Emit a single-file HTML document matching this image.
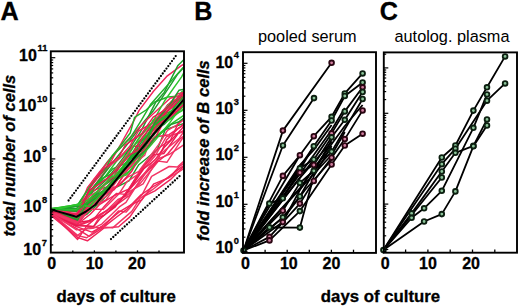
<!DOCTYPE html>
<html><head><meta charset="utf-8"><style>
html,body{margin:0;padding:0;background:#fff;}
svg{display:block;}
text{font-family:"Liberation Sans",sans-serif;}
</style></head><body>
<svg width="520" height="308" viewBox="0 0 520 308">
<rect width="520" height="308" fill="#fff"/>
<clipPath id="ca"><rect x="50.8" y="51.3" width="133.2" height="201.3"/></clipPath>
<g clip-path="url(#ca)" fill="none" stroke-linejoin="round">
<polyline points="51.3,208.7 76.9,204.7 89.5,202.0 100.7,194.4 117.8,178.1 126.6,174.7 140.3,159.4 152.7,139.1 169.7,124.9 184.1,115.2 193.5,107.5" stroke="#2cc42c" stroke-width="1.45"/>
<polyline points="51.3,210.0 77.2,212.0 90.1,192.0 107.3,168.0 120.3,145.0 134.2,120.2 139.1,110.4 153.7,91.0 166.7,76.4 181.3,65.6 186.0,63.0" stroke="#f0245a" stroke-width="1.45"/>
<polyline points="51.3,212.9 77.6,224.8 86.9,221.8 106.2,211.1 117.9,199.5 126.4,196.0 140.5,183.1 158.4,161.1 166.9,162.3 182.3,138.7 193.5,133.3" stroke="#f23666" stroke-width="1.45"/>
<polyline points="51.3,209.7 77.8,217.7 86.9,214.3 102.0,200.6 113.2,188.9 129.0,180.8 138.8,164.7 157.1,150.0 165.3,129.6 184.0,123.4 193.5,110.7" stroke="#1e9e2c" stroke-width="1.45"/>
<polyline points="51.3,209.6 77.9,217.6 91.8,190.0 105.1,176.6 116.3,161.5 131.1,147.7 145.1,135.5 153.2,119.8 165.7,113.4 182.1,91.5 193.5,84.5" stroke="#2cc42c" stroke-width="1.45"/>
<polyline points="51.3,209.0 77.2,206.0 90.1,186.0 107.3,162.0 120.3,146.0 130.2,133.0 134.6,117.3 146.1,110.0 154.7,102.0 167.7,97.0 180.6,96.0 190.0,94.0" stroke="#22b02a" stroke-width="1.45"/>
<polyline points="51.3,209.1 77.8,211.6 92.5,192.2 106.2,180.0 116.3,166.9 125.4,154.9 141.4,130.4 155.9,101.9 164.2,92.4 177.7,65.8 193.5,49.8" stroke="#1e9e2c" stroke-width="1.45"/>
<polyline points="51.3,210.0 76.6,223.0 89.3,191.8 106.7,175.3 112.5,169.0 128.1,162.1 144.8,141.9 158.6,129.9 166.3,113.4 184.0,104.9 193.5,91.6" stroke="#22b02a" stroke-width="1.45"/>
<polyline points="51.3,213.1 77.8,222.5 89.0,220.8 103.7,215.5 115.3,206.9 128.9,189.0 142.0,167.4 154.3,154.8 163.8,153.5 178.1,133.7 193.5,125.1" stroke="#e81a50" stroke-width="1.45"/>
<polyline points="51.3,214.6 77.3,224.8 93.5,226.6 100.2,215.7 115.5,203.8 126.9,192.8 143.1,183.8 157.8,159.0 169.3,154.4 177.8,148.9 193.5,137.8" stroke="#f23666" stroke-width="1.45"/>
<polyline points="51.3,213.3 77.6,235.3 88.3,227.4 102.4,227.8 118.4,210.9 126.2,212.1 142.4,194.2 151.6,176.3 169.1,166.5 177.3,167.0 193.5,152.6" stroke="#f23666" stroke-width="1.45"/>
<polyline points="51.3,211.3 76.5,219.8 89.0,207.3 105.9,200.0 113.2,189.8 127.7,177.1 138.9,171.3 158.6,144.6 167.5,130.3 177.5,124.6 193.5,112.3" stroke="#f23666" stroke-width="1.45"/>
<polyline points="51.3,212.2 77.5,224.0 90.2,208.6 104.4,191.3 119.0,185.4 131.8,171.2 141.0,154.8 151.7,143.7 164.3,121.3 178.3,106.9 193.5,96.7" stroke="#e81a50" stroke-width="1.45"/>
<polyline points="51.3,208.9 77.9,209.9 88.2,193.0 101.5,177.2 115.1,159.5 126.3,145.6 145.0,120.5 152.6,111.8 171.5,83.6 177.8,73.9 193.5,57.0" stroke="#1e9e2c" stroke-width="1.45"/>
<polyline points="51.3,215.7 77.9,237.6 87.4,240.8 104.1,228.0 118.6,226.7 129.9,216.9 144.2,196.1 154.9,190.8 170.3,179.7 183.1,166.9 193.5,162.2" stroke="#f0245a" stroke-width="1.45"/>
<polyline points="51.3,211.7 77.9,222.5 89.9,206.6 99.6,198.7 117.1,185.7 131.4,160.7 140.9,153.4 151.0,136.6 165.1,115.0 177.2,110.7 193.5,86.4" stroke="#f23666" stroke-width="1.45"/>
<polyline points="51.3,210.8 77.8,214.7 91.0,203.9 100.4,196.0 113.8,180.0 131.6,166.2 139.4,149.4 154.0,135.1 166.8,115.8 178.6,112.6 193.5,104.4" stroke="#2cc42c" stroke-width="1.45"/>
<polyline points="51.3,214.4 76.4,228.4 89.2,236.3 103.0,227.6 116.0,217.5 127.1,209.1 141.0,194.8 151.0,188.0 165.6,179.2 180.8,167.7 193.5,158.7" stroke="#f0245a" stroke-width="1.45"/>
<polyline points="51.3,213.4 76.7,224.8 90.2,214.2 99.4,204.7 114.2,195.5 130.4,188.4 141.4,176.4 158.5,158.5 166.6,140.1 178.5,128.3 193.5,117.8" stroke="#f0245a" stroke-width="1.45"/>
<polyline points="51.3,209.4 77.7,220.4 93.3,196.1 101.4,188.9 113.5,184.6 129.5,165.8 140.8,150.5 154.3,124.8 169.8,114.5 177.5,101.3 193.5,87.1" stroke="#22b02a" stroke-width="1.45"/>
<polyline points="51.3,214.4 76.6,235.4 86.8,237.8 101.1,226.6 112.7,227.9 131.8,211.4 140.1,198.4 153.1,189.2 165.0,179.6 178.8,171.8 193.5,162.2" stroke="#f23666" stroke-width="1.45"/>
<polyline points="51.3,208.1 76.5,220.1 90.9,200.2 104.0,185.4 115.3,176.4 128.3,162.0 141.4,142.1 151.0,130.5 167.6,104.9 182.6,95.5 193.5,82.3" stroke="#1e9e2c" stroke-width="1.45"/>
<polyline points="51.3,210.9 77.2,218.6 89.8,192.7 100.1,187.6 113.6,176.6 132.3,146.3 141.5,146.2 158.4,123.1 165.9,112.8 184.1,97.5 193.5,99.7" stroke="#e81a50" stroke-width="1.45"/>
<polyline points="51.3,208.4 76.8,208.1 90.9,192.9 100.7,179.0 114.6,172.5 126.4,157.0 139.5,148.2 155.1,121.8 164.6,116.6 181.0,105.0 193.5,90.9" stroke="#22b02a" stroke-width="1.45"/>
<polyline points="51.3,209.2 77.3,208.5 86.3,201.6 102.7,190.8 117.1,177.9 128.7,159.6 139.8,155.4 156.3,129.4 164.0,124.4 182.0,107.0 193.5,98.5" stroke="#1e9e2c" stroke-width="1.45"/>
<polyline points="51.3,208.6 76.8,219.1 86.7,201.8 103.4,185.8 119.7,174.5 132.7,152.3 138.6,143.0 154.7,128.0 167.3,107.4 180.0,98.1 193.5,87.8" stroke="#22b02a" stroke-width="1.45"/>
<polyline points="51.3,213.4 76.4,226.6 91.9,232.1 100.6,227.3 119.3,211.9 131.4,204.7 141.8,199.9 153.9,183.8 169.1,177.7 179.4,166.5 193.5,156.1" stroke="#f0245a" stroke-width="1.45"/>
<polyline points="51.3,212.1 76.8,220.9 90.7,202.7 105.9,193.4 114.3,189.5 125.9,172.3 143.8,150.1 154.7,137.0 169.0,134.7 181.2,126.3 193.5,111.8" stroke="#f0245a" stroke-width="1.45"/>
<polyline points="51.3,210.5 76.8,221.4 87.3,201.4 101.5,193.2 113.5,179.2 130.0,157.8 142.2,137.8 151.3,126.7 169.1,108.8 179.2,99.9 193.5,85.7" stroke="#e81a50" stroke-width="1.45"/>
<polyline points="51.3,209.2 76.9,209.7 93.6,187.9 103.5,180.4 115.3,175.5 132.7,154.3 139.5,151.6 152.4,129.2 170.8,118.9 183.1,109.0 193.5,111.3" stroke="#2cc42c" stroke-width="1.45"/>
<polyline points="51.3,213.5 76.6,223.0 90.4,209.2 103.2,209.4 118.8,194.1 127.0,181.7 139.2,173.7 155.0,156.0 166.3,136.8 183.0,131.7 193.5,123.7" stroke="#f23666" stroke-width="1.45"/>
<polyline points="51.3,211.7 77.8,222.1 88.5,196.5 102.2,188.8 116.6,167.7 128.3,153.4 138.3,139.3 157.3,117.2 171.0,101.8 178.8,97.7 193.5,81.8" stroke="#f23666" stroke-width="1.45"/>
<polyline points="51.3,209.5 76.9,214.0 87.4,187.8 99.7,171.8 114.9,153.8 128.9,138.7 141.3,125.2 151.6,115.2 170.2,98.2 178.5,96.0 193.5,93.0" stroke="#f0245a" stroke-width="1.45"/>
<polyline points="51.3,213.9 76.6,226.0 92.6,220.6 104.2,206.4 116.3,193.4 125.1,194.4 143.0,167.8 158.1,148.3 170.6,140.0 178.4,122.9 193.5,110.3" stroke="#f0245a" stroke-width="1.45"/>
<polyline points="51.3,211.1 77.5,214.8 93.8,179.5 102.1,171.4 117.4,160.0 129.8,146.2 138.5,131.0 152.8,122.8 166.2,109.4 176.8,94.2 193.5,89.8" stroke="#f0245a" stroke-width="1.45"/>
<polyline points="51.3,213.1 77.6,239.4 87.0,225.6 101.1,213.8 118.1,203.7 129.4,195.5 145.0,174.1 155.6,163.3 167.8,153.8 180.2,138.8 193.5,128.4" stroke="#f0245a" stroke-width="1.45"/>
<polyline points="51.3,211.7 76.5,223.1 89.7,207.1 106.0,196.3 118.8,177.9 128.2,168.1 144.8,155.1 152.0,135.1 165.6,120.3 180.5,109.2 193.5,94.0" stroke="#f23666" stroke-width="1.45"/>
<polyline points="51.3,214.7 77.1,225.8 93.9,226.4 100.4,218.4 116.1,205.1 126.5,193.9 143.5,169.0 155.2,159.8 163.9,147.8 181.6,129.1 193.5,111.7" stroke="#e81a50" stroke-width="1.45"/>
<polyline points="51.3,208.8 77.0,206.0 89.7,186.9 105.7,168.6 112.2,156.1 130.5,137.7 141.6,119.9 150.9,103.9 171.0,81.2 183.4,67.3 193.5,53.9" stroke="#22b02a" stroke-width="1.45"/>
<polyline points="51.3,209.0 76.7,204.7 88.2,200.0 106.0,183.1 115.3,171.2 129.1,153.9 140.6,135.5 153.0,121.4 164.8,100.5 181.6,76.8 193.5,55.8" stroke="#2cc42c" stroke-width="1.45"/>
<polyline points="51.3,209.2 77.6,220.2 86.5,203.5 99.6,195.9 114.1,180.1 132.0,154.6 140.0,150.8 155.6,121.3 169.4,105.3 178.9,90.3 193.5,87.0" stroke="#1e9e2c" stroke-width="1.45"/>
<polyline points="51.3,211.8 77.7,214.8 90.2,187.8 104.6,168.0 119.0,157.0 125.2,145.1 141.7,133.6 153.2,117.2 166.5,109.0 183.2,92.9 193.5,101.8" stroke="#e81a50" stroke-width="1.45"/>
<polyline points="51.3,210.0 77.7,206.4 88.5,203.5 102.0,193.7 113.6,179.6 126.9,165.9 144.8,151.1 153.4,139.6 171.5,124.3 178.5,122.0 193.5,110.9" stroke="#1e9e2c" stroke-width="1.45"/>
<polyline points="51.3,210.8 76.7,204.5 89.9,206.5 106.5,188.3 114.0,181.7 128.8,171.6 139.4,158.6 156.6,138.6 169.8,122.6 179.3,109.6 193.5,100.1" stroke="#2cc42c" stroke-width="1.45"/>
<polyline points="51.3,209.3 76.6,217.1 89.0,191.1 105.6,179.6 116.9,169.7 130.3,154.4 138.0,150.3 156.7,125.6 167.9,117.6 177.2,111.1 193.5,94.7" stroke="#e81a50" stroke-width="1.45"/>
<polyline points="51.3,213.4 76.5,229.9 92.9,228.4 101.8,224.1 119.3,206.9 126.0,202.4 139.8,180.3 152.1,162.6 165.4,149.7 179.1,138.6 193.5,116.6" stroke="#f23666" stroke-width="1.45"/>
<polyline points="51.3,209.1 76.6,210.6 86.2,203.1 101.9,192.5 113.0,182.7 126.6,162.5 144.3,146.6 154.2,125.5 167.5,115.3 183.9,96.5 193.5,93.2" stroke="#22b02a" stroke-width="1.45"/>
<polyline points="51.5,209.6 76.4,216.8 86,211.5 95,205 110,187.3 128.4,164.9 155,132.5 185,98" stroke="#000" stroke-width="2"/>
</g>
<line x1="68.6" y1="200.5" x2="175.9" y2="55.8" stroke="#000" stroke-width="2.3" stroke-linecap="round" stroke-dasharray="0 3.1"/>
<line x1="111" y1="239.1" x2="181.6" y2="174.3" stroke="#000" stroke-width="2.3" stroke-linecap="round" stroke-dasharray="0 3.1"/>
<rect x="50.8" y="51.3" width="133.2" height="201.3" fill="none" stroke="#000" stroke-width="1.9"/>
<line x1="50.8" y1="244.9" x2="53.2" y2="244.9" stroke="#000" stroke-width="1.2"/>
<line x1="50.8" y1="236.0" x2="53.2" y2="236.0" stroke="#000" stroke-width="1.2"/>
<line x1="50.8" y1="229.6" x2="53.2" y2="229.6" stroke="#000" stroke-width="1.2"/>
<line x1="50.8" y1="224.7" x2="53.2" y2="224.7" stroke="#000" stroke-width="1.2"/>
<line x1="50.8" y1="220.7" x2="53.2" y2="220.7" stroke="#000" stroke-width="1.2"/>
<line x1="50.8" y1="217.3" x2="53.2" y2="217.3" stroke="#000" stroke-width="1.2"/>
<line x1="50.8" y1="214.4" x2="53.2" y2="214.4" stroke="#000" stroke-width="1.2"/>
<line x1="50.8" y1="211.8" x2="53.2" y2="211.8" stroke="#000" stroke-width="1.2"/>
<line x1="50.8" y1="209.5" x2="55.3" y2="209.5" stroke="#000" stroke-width="1.2"/>
<line x1="50.8" y1="194.3" x2="53.2" y2="194.3" stroke="#000" stroke-width="1.2"/>
<line x1="50.8" y1="185.4" x2="53.2" y2="185.4" stroke="#000" stroke-width="1.2"/>
<line x1="50.8" y1="179.0" x2="53.2" y2="179.0" stroke="#000" stroke-width="1.2"/>
<line x1="50.8" y1="174.1" x2="53.2" y2="174.1" stroke="#000" stroke-width="1.2"/>
<line x1="50.8" y1="170.1" x2="53.2" y2="170.1" stroke="#000" stroke-width="1.2"/>
<line x1="50.8" y1="166.7" x2="53.2" y2="166.7" stroke="#000" stroke-width="1.2"/>
<line x1="50.8" y1="163.8" x2="53.2" y2="163.8" stroke="#000" stroke-width="1.2"/>
<line x1="50.8" y1="161.2" x2="53.2" y2="161.2" stroke="#000" stroke-width="1.2"/>
<line x1="50.8" y1="158.9" x2="55.3" y2="158.9" stroke="#000" stroke-width="1.2"/>
<line x1="50.8" y1="143.7" x2="53.2" y2="143.7" stroke="#000" stroke-width="1.2"/>
<line x1="50.8" y1="134.8" x2="53.2" y2="134.8" stroke="#000" stroke-width="1.2"/>
<line x1="50.8" y1="128.4" x2="53.2" y2="128.4" stroke="#000" stroke-width="1.2"/>
<line x1="50.8" y1="123.5" x2="53.2" y2="123.5" stroke="#000" stroke-width="1.2"/>
<line x1="50.8" y1="119.5" x2="53.2" y2="119.5" stroke="#000" stroke-width="1.2"/>
<line x1="50.8" y1="116.1" x2="53.2" y2="116.1" stroke="#000" stroke-width="1.2"/>
<line x1="50.8" y1="113.2" x2="53.2" y2="113.2" stroke="#000" stroke-width="1.2"/>
<line x1="50.8" y1="110.6" x2="53.2" y2="110.6" stroke="#000" stroke-width="1.2"/>
<line x1="50.8" y1="108.3" x2="55.3" y2="108.3" stroke="#000" stroke-width="1.2"/>
<line x1="50.8" y1="93.1" x2="53.2" y2="93.1" stroke="#000" stroke-width="1.2"/>
<line x1="50.8" y1="84.2" x2="53.2" y2="84.2" stroke="#000" stroke-width="1.2"/>
<line x1="50.8" y1="77.8" x2="53.2" y2="77.8" stroke="#000" stroke-width="1.2"/>
<line x1="50.8" y1="72.9" x2="53.2" y2="72.9" stroke="#000" stroke-width="1.2"/>
<line x1="50.8" y1="68.9" x2="53.2" y2="68.9" stroke="#000" stroke-width="1.2"/>
<line x1="50.8" y1="65.5" x2="53.2" y2="65.5" stroke="#000" stroke-width="1.2"/>
<line x1="50.8" y1="62.6" x2="53.2" y2="62.6" stroke="#000" stroke-width="1.2"/>
<line x1="50.8" y1="60.0" x2="53.2" y2="60.0" stroke="#000" stroke-width="1.2"/>
<line x1="50.8" y1="57.7" x2="55.3" y2="57.7" stroke="#000" stroke-width="1.2"/>
<line x1="72.8" y1="252.6" x2="72.8" y2="250.4" stroke="#000" stroke-width="1.3"/>
<line x1="94.4" y1="252.6" x2="94.4" y2="250.4" stroke="#000" stroke-width="1.3"/>
<line x1="115.9" y1="252.6" x2="115.9" y2="250.4" stroke="#000" stroke-width="1.3"/>
<line x1="137.5" y1="252.6" x2="137.5" y2="250.4" stroke="#000" stroke-width="1.3"/>
<line x1="159.0" y1="252.6" x2="159.0" y2="250.4" stroke="#000" stroke-width="1.3"/>
<g fill="none" stroke="#000" stroke-width="1.8" stroke-linejoin="round">
<polyline points="243.5,250.5 282.9,130.6 331.6,62.8"/>
<polyline points="243.5,250.5 282.9,145.5 314.0,98.1"/>
<polyline points="243.5,250.5 282.9,175.9 299.9,155.2 313.8,136.2 331.6,116.8 344.8,93.4 362.6,73.4"/>
<polyline points="243.5,250.5 269.3,203.6 282.8,198.3 313.8,146.2 331.6,120.5 344.8,96.0 362.6,82.5"/>
<polyline points="243.5,250.5 299.9,168.3 313.8,159.5 331.6,133.4 344.8,111.4 362.6,87.3"/>
<polyline points="243.5,250.5 299.9,172.7 313.8,165.0 331.6,137.3 344.8,119.8 362.6,92.0"/>
<polyline points="243.5,250.5 282.8,210.7 299.9,182.9 313.8,170.8 331.6,151.6 362.6,99.0"/>
<polyline points="243.5,250.5 269.5,236.9 299.9,203.6 313.8,181.0 331.6,157.7 344.8,139.1 362.6,110.4"/>
<polyline points="243.5,250.5 269.5,240.4 299.9,211.1 331.6,164.5 344.8,145.5 362.6,133.7"/>
<polyline points="243.5,250.5 269.5,227.4 299.9,227.6 313.8,176.0 331.6,146.0"/>
<polyline points="243.5,250.5 282.8,217.4 299.9,196.5 313.8,172.0 331.6,140.0"/>
<polyline points="243.5,250.5 282.8,222.1 299.9,190.0 313.8,168.0 331.6,148.0"/>
<polyline points="243.5,250.5 299.9,165.0 313.8,150.0 331.6,125.0"/>
<polyline points="243.5,250.5 299.9,178.0 313.8,162.0 331.6,142.0"/>
<polyline points="243.5,250.5 313.8,155.0 331.6,130.0 344.8,108.0"/>
<polyline points="243.5,250.5 290.0,200.0 313.8,174.0 331.6,155.0 344.8,132.0"/>
<polyline points="243.5,250.5 300.0,188.0 320.0,160.0 344.8,126.0 362.6,105.0"/>
<polyline points="243.5,250.5 286.0,215.0 305.0,190.0 331.6,160.0"/>
<polyline points="243.5,250.5 299.9,155.2"/>
<polyline points="243.5,250.5 299.9,168.3"/>
<polyline points="243.5,250.5 313.8,146.2"/>
<polyline points="243.5,250.5 313.8,159.5"/>
</g>
<circle cx="282.9" cy="130.6" r="2.35" fill="#d07ea0" stroke="#2a0612" stroke-width="1.85"/>
<circle cx="331.6" cy="62.8" r="2.35" fill="#d07ea0" stroke="#2a0612" stroke-width="1.85"/>
<circle cx="282.9" cy="145.5" r="2.35" fill="#8cc49a" stroke="#0c1f10" stroke-width="1.85"/>
<circle cx="314.0" cy="98.1" r="2.35" fill="#8cc49a" stroke="#0c1f10" stroke-width="1.85"/>
<circle cx="282.9" cy="175.9" r="2.35" fill="#d07ea0" stroke="#2a0612" stroke-width="1.85"/>
<circle cx="299.9" cy="155.2" r="2.35" fill="#d07ea0" stroke="#2a0612" stroke-width="1.85"/>
<circle cx="313.8" cy="136.2" r="2.35" fill="#d07ea0" stroke="#2a0612" stroke-width="1.85"/>
<circle cx="331.6" cy="116.8" r="2.35" fill="#8cc49a" stroke="#0c1f10" stroke-width="1.85"/>
<circle cx="344.8" cy="93.4" r="2.35" fill="#8cc49a" stroke="#0c1f10" stroke-width="1.85"/>
<circle cx="362.6" cy="73.4" r="2.35" fill="#8cc49a" stroke="#0c1f10" stroke-width="1.85"/>
<circle cx="269.3" cy="203.6" r="2.35" fill="#8cc49a" stroke="#0c1f10" stroke-width="1.85"/>
<circle cx="282.8" cy="198.3" r="2.35" fill="#8cc49a" stroke="#0c1f10" stroke-width="1.85"/>
<circle cx="313.8" cy="146.2" r="2.35" fill="#8cc49a" stroke="#0c1f10" stroke-width="1.85"/>
<circle cx="331.6" cy="120.5" r="2.35" fill="#8cc49a" stroke="#0c1f10" stroke-width="1.85"/>
<circle cx="344.8" cy="96.0" r="2.35" fill="#8cc49a" stroke="#0c1f10" stroke-width="1.85"/>
<circle cx="362.6" cy="82.5" r="2.35" fill="#8cc49a" stroke="#0c1f10" stroke-width="1.85"/>
<circle cx="299.9" cy="168.3" r="2.35" fill="#8cc49a" stroke="#0c1f10" stroke-width="1.85"/>
<circle cx="313.8" cy="159.5" r="2.35" fill="#8cc49a" stroke="#0c1f10" stroke-width="1.85"/>
<circle cx="331.6" cy="133.4" r="2.35" fill="#d07ea0" stroke="#2a0612" stroke-width="1.85"/>
<circle cx="344.8" cy="111.4" r="2.35" fill="#8cc49a" stroke="#0c1f10" stroke-width="1.85"/>
<circle cx="362.6" cy="87.3" r="2.35" fill="#d07ea0" stroke="#2a0612" stroke-width="1.85"/>
<circle cx="299.9" cy="172.7" r="2.35" fill="#d07ea0" stroke="#2a0612" stroke-width="1.85"/>
<circle cx="313.8" cy="165.0" r="2.35" fill="#d07ea0" stroke="#2a0612" stroke-width="1.85"/>
<circle cx="331.6" cy="137.3" r="2.35" fill="#8cc49a" stroke="#0c1f10" stroke-width="1.85"/>
<circle cx="344.8" cy="119.8" r="2.35" fill="#8cc49a" stroke="#0c1f10" stroke-width="1.85"/>
<circle cx="362.6" cy="92.0" r="2.35" fill="#8cc49a" stroke="#0c1f10" stroke-width="1.85"/>
<circle cx="282.8" cy="210.7" r="2.35" fill="#d07ea0" stroke="#2a0612" stroke-width="1.85"/>
<circle cx="299.9" cy="182.9" r="2.35" fill="#8cc49a" stroke="#0c1f10" stroke-width="1.85"/>
<circle cx="313.8" cy="170.8" r="2.35" fill="#8cc49a" stroke="#0c1f10" stroke-width="1.85"/>
<circle cx="331.6" cy="151.6" r="2.35" fill="#8cc49a" stroke="#0c1f10" stroke-width="1.85"/>
<circle cx="362.6" cy="99.0" r="2.35" fill="#8cc49a" stroke="#0c1f10" stroke-width="1.85"/>
<circle cx="269.5" cy="236.9" r="2.35" fill="#d07ea0" stroke="#2a0612" stroke-width="1.85"/>
<circle cx="299.9" cy="203.6" r="2.35" fill="#d07ea0" stroke="#2a0612" stroke-width="1.85"/>
<circle cx="313.8" cy="181.0" r="2.35" fill="#d07ea0" stroke="#2a0612" stroke-width="1.85"/>
<circle cx="331.6" cy="157.7" r="2.35" fill="#d07ea0" stroke="#2a0612" stroke-width="1.85"/>
<circle cx="344.8" cy="139.1" r="2.35" fill="#d07ea0" stroke="#2a0612" stroke-width="1.85"/>
<circle cx="362.6" cy="110.4" r="2.35" fill="#d07ea0" stroke="#2a0612" stroke-width="1.85"/>
<circle cx="269.5" cy="240.4" r="2.35" fill="#d07ea0" stroke="#2a0612" stroke-width="1.85"/>
<circle cx="299.9" cy="211.1" r="2.35" fill="#8cc49a" stroke="#0c1f10" stroke-width="1.85"/>
<circle cx="331.6" cy="164.5" r="2.35" fill="#d07ea0" stroke="#2a0612" stroke-width="1.85"/>
<circle cx="344.8" cy="145.5" r="2.35" fill="#d07ea0" stroke="#2a0612" stroke-width="1.85"/>
<circle cx="362.6" cy="133.7" r="2.35" fill="#d07ea0" stroke="#2a0612" stroke-width="1.85"/>
<circle cx="269.5" cy="227.4" r="2.35" fill="#8cc49a" stroke="#0c1f10" stroke-width="1.85"/>
<circle cx="299.9" cy="227.6" r="2.35" fill="#8cc49a" stroke="#0c1f10" stroke-width="1.85"/>
<circle cx="282.8" cy="217.4" r="2.35" fill="#8cc49a" stroke="#0c1f10" stroke-width="1.85"/>
<circle cx="299.9" cy="196.5" r="2.35" fill="#8cc49a" stroke="#0c1f10" stroke-width="1.85"/>
<circle cx="282.8" cy="222.1" r="2.35" fill="#d07ea0" stroke="#2a0612" stroke-width="1.85"/>
<circle cx="243.5" cy="250.5" r="2.35" fill="#8cc49a" stroke="#0c1f10" stroke-width="1.85"/>
<rect x="243.0" y="52.2" width="133.0" height="200.7" fill="none" stroke="#000" stroke-width="1.9"/>
<line x1="243.0" y1="251.3" x2="247.5" y2="251.3" stroke="#000" stroke-width="1.2"/>
<line x1="243.0" y1="237.2" x2="245.4" y2="237.2" stroke="#000" stroke-width="1.2"/>
<line x1="243.0" y1="228.9" x2="245.4" y2="228.9" stroke="#000" stroke-width="1.2"/>
<line x1="243.0" y1="223.0" x2="245.4" y2="223.0" stroke="#000" stroke-width="1.2"/>
<line x1="243.0" y1="218.4" x2="245.4" y2="218.4" stroke="#000" stroke-width="1.2"/>
<line x1="243.0" y1="214.7" x2="245.4" y2="214.7" stroke="#000" stroke-width="1.2"/>
<line x1="243.0" y1="211.6" x2="245.4" y2="211.6" stroke="#000" stroke-width="1.2"/>
<line x1="243.0" y1="208.9" x2="245.4" y2="208.9" stroke="#000" stroke-width="1.2"/>
<line x1="243.0" y1="206.5" x2="245.4" y2="206.5" stroke="#000" stroke-width="1.2"/>
<line x1="243.0" y1="204.3" x2="247.5" y2="204.3" stroke="#000" stroke-width="1.2"/>
<line x1="243.0" y1="190.2" x2="245.4" y2="190.2" stroke="#000" stroke-width="1.2"/>
<line x1="243.0" y1="181.9" x2="245.4" y2="181.9" stroke="#000" stroke-width="1.2"/>
<line x1="243.0" y1="176.0" x2="245.4" y2="176.0" stroke="#000" stroke-width="1.2"/>
<line x1="243.0" y1="171.4" x2="245.4" y2="171.4" stroke="#000" stroke-width="1.2"/>
<line x1="243.0" y1="167.7" x2="245.4" y2="167.7" stroke="#000" stroke-width="1.2"/>
<line x1="243.0" y1="164.6" x2="245.4" y2="164.6" stroke="#000" stroke-width="1.2"/>
<line x1="243.0" y1="161.9" x2="245.4" y2="161.9" stroke="#000" stroke-width="1.2"/>
<line x1="243.0" y1="159.5" x2="245.4" y2="159.5" stroke="#000" stroke-width="1.2"/>
<line x1="243.0" y1="157.3" x2="247.5" y2="157.3" stroke="#000" stroke-width="1.2"/>
<line x1="243.0" y1="143.2" x2="245.4" y2="143.2" stroke="#000" stroke-width="1.2"/>
<line x1="243.0" y1="134.9" x2="245.4" y2="134.9" stroke="#000" stroke-width="1.2"/>
<line x1="243.0" y1="129.0" x2="245.4" y2="129.0" stroke="#000" stroke-width="1.2"/>
<line x1="243.0" y1="124.4" x2="245.4" y2="124.4" stroke="#000" stroke-width="1.2"/>
<line x1="243.0" y1="120.7" x2="245.4" y2="120.7" stroke="#000" stroke-width="1.2"/>
<line x1="243.0" y1="117.6" x2="245.4" y2="117.6" stroke="#000" stroke-width="1.2"/>
<line x1="243.0" y1="114.9" x2="245.4" y2="114.9" stroke="#000" stroke-width="1.2"/>
<line x1="243.0" y1="112.5" x2="245.4" y2="112.5" stroke="#000" stroke-width="1.2"/>
<line x1="243.0" y1="110.3" x2="247.5" y2="110.3" stroke="#000" stroke-width="1.2"/>
<line x1="243.0" y1="96.2" x2="245.4" y2="96.2" stroke="#000" stroke-width="1.2"/>
<line x1="243.0" y1="87.9" x2="245.4" y2="87.9" stroke="#000" stroke-width="1.2"/>
<line x1="243.0" y1="82.0" x2="245.4" y2="82.0" stroke="#000" stroke-width="1.2"/>
<line x1="243.0" y1="77.4" x2="245.4" y2="77.4" stroke="#000" stroke-width="1.2"/>
<line x1="243.0" y1="73.7" x2="245.4" y2="73.7" stroke="#000" stroke-width="1.2"/>
<line x1="243.0" y1="70.6" x2="245.4" y2="70.6" stroke="#000" stroke-width="1.2"/>
<line x1="243.0" y1="67.9" x2="245.4" y2="67.9" stroke="#000" stroke-width="1.2"/>
<line x1="243.0" y1="65.5" x2="245.4" y2="65.5" stroke="#000" stroke-width="1.2"/>
<line x1="243.0" y1="63.3" x2="247.5" y2="63.3" stroke="#000" stroke-width="1.2"/>
<line x1="265.1" y1="252.9" x2="265.1" y2="249.70000000000002" stroke="#000" stroke-width="1.3"/>
<line x1="287.2" y1="252.9" x2="287.2" y2="249.70000000000002" stroke="#000" stroke-width="1.3"/>
<line x1="309.3" y1="252.9" x2="309.3" y2="249.70000000000002" stroke="#000" stroke-width="1.3"/>
<line x1="331.4" y1="252.9" x2="331.4" y2="249.70000000000002" stroke="#000" stroke-width="1.3"/>
<line x1="353.5" y1="252.9" x2="353.5" y2="249.70000000000002" stroke="#000" stroke-width="1.3"/>
<g fill="none" stroke="#000" stroke-width="1.8" stroke-linejoin="round">
<polyline points="383.4,250.1 441.8,157.5 455.4,145.5 473.4,110.6 487.0,87.3 505.1,56.4"/>
<polyline points="383.4,250.1 441.8,164.2 455.4,148.7 487.0,100.7 505.1,83.4"/>
<polyline points="383.4,250.1 411.6,213.4 441.8,171.5 455.4,152.8 473.4,145.9 487.0,119.4"/>
<polyline points="383.4,250.1 411.6,217.8 424.1,208.3 441.8,190.8 473.4,127.8 487.0,94.4"/>
<polyline points="383.4,250.1 424.1,221.5 441.8,214.1 455.4,191.4 473.4,146.2 487.0,125.5"/>
<polyline points="383.4,250.1 441.8,177.5"/>
</g>
<circle cx="441.8" cy="157.5" r="2.35" fill="#8cc49a" stroke="#0c1f10" stroke-width="1.85"/>
<circle cx="455.4" cy="145.5" r="2.35" fill="#8cc49a" stroke="#0c1f10" stroke-width="1.85"/>
<circle cx="473.4" cy="110.6" r="2.35" fill="#8cc49a" stroke="#0c1f10" stroke-width="1.85"/>
<circle cx="487.0" cy="87.3" r="2.35" fill="#8cc49a" stroke="#0c1f10" stroke-width="1.85"/>
<circle cx="505.1" cy="56.4" r="2.35" fill="#8cc49a" stroke="#0c1f10" stroke-width="1.85"/>
<circle cx="441.8" cy="164.2" r="2.35" fill="#8cc49a" stroke="#0c1f10" stroke-width="1.85"/>
<circle cx="455.4" cy="148.7" r="2.35" fill="#8cc49a" stroke="#0c1f10" stroke-width="1.85"/>
<circle cx="487.0" cy="100.7" r="2.35" fill="#8cc49a" stroke="#0c1f10" stroke-width="1.85"/>
<circle cx="505.1" cy="83.4" r="2.35" fill="#8cc49a" stroke="#0c1f10" stroke-width="1.85"/>
<circle cx="411.6" cy="213.4" r="2.35" fill="#8cc49a" stroke="#0c1f10" stroke-width="1.85"/>
<circle cx="441.8" cy="171.5" r="2.35" fill="#8cc49a" stroke="#0c1f10" stroke-width="1.85"/>
<circle cx="455.4" cy="152.8" r="2.35" fill="#8cc49a" stroke="#0c1f10" stroke-width="1.85"/>
<circle cx="473.4" cy="145.9" r="2.35" fill="#8cc49a" stroke="#0c1f10" stroke-width="1.85"/>
<circle cx="487.0" cy="119.4" r="2.35" fill="#8cc49a" stroke="#0c1f10" stroke-width="1.85"/>
<circle cx="411.6" cy="217.8" r="2.35" fill="#8cc49a" stroke="#0c1f10" stroke-width="1.85"/>
<circle cx="424.1" cy="208.3" r="2.35" fill="#8cc49a" stroke="#0c1f10" stroke-width="1.85"/>
<circle cx="441.8" cy="190.8" r="2.35" fill="#8cc49a" stroke="#0c1f10" stroke-width="1.85"/>
<circle cx="473.4" cy="127.8" r="2.35" fill="#8cc49a" stroke="#0c1f10" stroke-width="1.85"/>
<circle cx="487.0" cy="94.4" r="2.35" fill="#8cc49a" stroke="#0c1f10" stroke-width="1.85"/>
<circle cx="424.1" cy="221.5" r="2.35" fill="#8cc49a" stroke="#0c1f10" stroke-width="1.85"/>
<circle cx="441.8" cy="214.1" r="2.35" fill="#8cc49a" stroke="#0c1f10" stroke-width="1.85"/>
<circle cx="455.4" cy="191.4" r="2.35" fill="#8cc49a" stroke="#0c1f10" stroke-width="1.85"/>
<circle cx="473.4" cy="146.2" r="2.35" fill="#8cc49a" stroke="#0c1f10" stroke-width="1.85"/>
<circle cx="487.0" cy="125.5" r="2.35" fill="#8cc49a" stroke="#0c1f10" stroke-width="1.85"/>
<circle cx="441.8" cy="177.5" r="2.35" fill="#8cc49a" stroke="#0c1f10" stroke-width="1.85"/>
<circle cx="383.4" cy="250.1" r="2.35" fill="#8cc49a" stroke="#0c1f10" stroke-width="1.85"/>
<rect x="383.8" y="52.4" width="133.2" height="200.29999999999998" fill="none" stroke="#000" stroke-width="1.9"/>
<line x1="383.8" y1="251.6" x2="386.2" y2="251.6" stroke="#000" stroke-width="1.2"/>
<line x1="383.8" y1="249.5" x2="388.3" y2="249.5" stroke="#000" stroke-width="1.2"/>
<line x1="383.8" y1="235.8" x2="386.2" y2="235.8" stroke="#000" stroke-width="1.2"/>
<line x1="383.8" y1="227.8" x2="386.2" y2="227.8" stroke="#000" stroke-width="1.2"/>
<line x1="383.8" y1="222.2" x2="386.2" y2="222.2" stroke="#000" stroke-width="1.2"/>
<line x1="383.8" y1="217.8" x2="386.2" y2="217.8" stroke="#000" stroke-width="1.2"/>
<line x1="383.8" y1="214.2" x2="386.2" y2="214.2" stroke="#000" stroke-width="1.2"/>
<line x1="383.8" y1="211.1" x2="386.2" y2="211.1" stroke="#000" stroke-width="1.2"/>
<line x1="383.8" y1="208.5" x2="386.2" y2="208.5" stroke="#000" stroke-width="1.2"/>
<line x1="383.8" y1="206.2" x2="386.2" y2="206.2" stroke="#000" stroke-width="1.2"/>
<line x1="383.8" y1="204.1" x2="388.3" y2="204.1" stroke="#000" stroke-width="1.2"/>
<line x1="383.8" y1="190.4" x2="386.2" y2="190.4" stroke="#000" stroke-width="1.2"/>
<line x1="383.8" y1="182.4" x2="386.2" y2="182.4" stroke="#000" stroke-width="1.2"/>
<line x1="383.8" y1="176.8" x2="386.2" y2="176.8" stroke="#000" stroke-width="1.2"/>
<line x1="383.8" y1="172.4" x2="386.2" y2="172.4" stroke="#000" stroke-width="1.2"/>
<line x1="383.8" y1="168.8" x2="386.2" y2="168.8" stroke="#000" stroke-width="1.2"/>
<line x1="383.8" y1="165.7" x2="386.2" y2="165.7" stroke="#000" stroke-width="1.2"/>
<line x1="383.8" y1="163.1" x2="386.2" y2="163.1" stroke="#000" stroke-width="1.2"/>
<line x1="383.8" y1="160.8" x2="386.2" y2="160.8" stroke="#000" stroke-width="1.2"/>
<line x1="383.8" y1="158.7" x2="388.3" y2="158.7" stroke="#000" stroke-width="1.2"/>
<line x1="383.8" y1="145.0" x2="386.2" y2="145.0" stroke="#000" stroke-width="1.2"/>
<line x1="383.8" y1="137.0" x2="386.2" y2="137.0" stroke="#000" stroke-width="1.2"/>
<line x1="383.8" y1="131.4" x2="386.2" y2="131.4" stroke="#000" stroke-width="1.2"/>
<line x1="383.8" y1="127.0" x2="386.2" y2="127.0" stroke="#000" stroke-width="1.2"/>
<line x1="383.8" y1="123.4" x2="386.2" y2="123.4" stroke="#000" stroke-width="1.2"/>
<line x1="383.8" y1="120.3" x2="386.2" y2="120.3" stroke="#000" stroke-width="1.2"/>
<line x1="383.8" y1="117.7" x2="386.2" y2="117.7" stroke="#000" stroke-width="1.2"/>
<line x1="383.8" y1="115.4" x2="386.2" y2="115.4" stroke="#000" stroke-width="1.2"/>
<line x1="383.8" y1="113.3" x2="388.3" y2="113.3" stroke="#000" stroke-width="1.2"/>
<line x1="383.8" y1="99.6" x2="386.2" y2="99.6" stroke="#000" stroke-width="1.2"/>
<line x1="383.8" y1="91.6" x2="386.2" y2="91.6" stroke="#000" stroke-width="1.2"/>
<line x1="383.8" y1="86.0" x2="386.2" y2="86.0" stroke="#000" stroke-width="1.2"/>
<line x1="383.8" y1="81.6" x2="386.2" y2="81.6" stroke="#000" stroke-width="1.2"/>
<line x1="383.8" y1="78.0" x2="386.2" y2="78.0" stroke="#000" stroke-width="1.2"/>
<line x1="383.8" y1="74.9" x2="386.2" y2="74.9" stroke="#000" stroke-width="1.2"/>
<line x1="383.8" y1="72.3" x2="386.2" y2="72.3" stroke="#000" stroke-width="1.2"/>
<line x1="383.8" y1="70.0" x2="386.2" y2="70.0" stroke="#000" stroke-width="1.2"/>
<line x1="383.8" y1="67.9" x2="388.3" y2="67.9" stroke="#000" stroke-width="1.2"/>
<line x1="383.8" y1="54.2" x2="386.2" y2="54.2" stroke="#000" stroke-width="1.2"/>
<line x1="405.6" y1="252.7" x2="405.6" y2="249.5" stroke="#000" stroke-width="1.3"/>
<line x1="427.9" y1="252.7" x2="427.9" y2="249.5" stroke="#000" stroke-width="1.3"/>
<line x1="450.2" y1="252.7" x2="450.2" y2="249.5" stroke="#000" stroke-width="1.3"/>
<line x1="472.5" y1="252.7" x2="472.5" y2="249.5" stroke="#000" stroke-width="1.3"/>
<line x1="494.8" y1="252.7" x2="494.8" y2="249.5" stroke="#000" stroke-width="1.3"/>
<text x="0.6" y="20.4" font-size="25.2" font-family="Liberation Sans" font-weight="bold" stroke="#000" stroke-width="0.3">A</text>
<text x="194.2" y="20.1" font-size="25.2" font-family="Liberation Sans" font-weight="bold" stroke="#000" stroke-width="0.3">B</text>
<text x="379.8" y="20.4" font-size="25.2" font-family="Liberation Sans" font-weight="bold" stroke="#000" stroke-width="0.3">C</text>
<text x="258" y="41.6" font-size="16.3" font-family="Liberation Sans">pooled serum</text>
<text x="394.5" y="41.6" font-size="16.3" font-family="Liberation Sans">autolog. plasma</text>
<text x="19.0" y="60.5" font-size="16" font-family="Liberation Sans" font-weight="bold" stroke="#000" stroke-width="0.3">10</text>
<text x="37.5" y="51.2" font-size="9.3" font-family="Liberation Sans" font-weight="bold" stroke="#000" stroke-width="0.3">11</text>
<text x="18.6" y="111.1" font-size="16" font-family="Liberation Sans" font-weight="bold" stroke="#000" stroke-width="0.3">10</text>
<text x="37.1" y="101.8" font-size="9.3" font-family="Liberation Sans" font-weight="bold" stroke="#000" stroke-width="0.3">10</text>
<text x="23.3" y="161.6" font-size="16" font-family="Liberation Sans" font-weight="bold" stroke="#000" stroke-width="0.3">10</text>
<text x="41.8" y="152.29999999999998" font-size="9.3" font-family="Liberation Sans" font-weight="bold" stroke="#000" stroke-width="0.3">9</text>
<text x="23.5" y="211.9" font-size="16" font-family="Liberation Sans" font-weight="bold" stroke="#000" stroke-width="0.3">10</text>
<text x="42.0" y="202.6" font-size="9.3" font-family="Liberation Sans" font-weight="bold" stroke="#000" stroke-width="0.3">8</text>
<text x="23.3" y="255.1" font-size="16" font-family="Liberation Sans" font-weight="bold" stroke="#000" stroke-width="0.3">10</text>
<text x="41.8" y="245.79999999999998" font-size="9.3" font-family="Liberation Sans" font-weight="bold" stroke="#000" stroke-width="0.3">7</text>
<text x="215.4" y="253.4" font-size="16" font-family="Liberation Sans" font-weight="bold" stroke="#000" stroke-width="0.3">10</text>
<text x="233.8" y="244.1" font-size="9.3" font-family="Liberation Sans" font-weight="bold" stroke="#000" stroke-width="0.3">0</text>
<text x="215.4" y="206.9" font-size="16" font-family="Liberation Sans" font-weight="bold" stroke="#000" stroke-width="0.3">10</text>
<text x="233.8" y="197.6" font-size="9.3" font-family="Liberation Sans" font-weight="bold" stroke="#000" stroke-width="0.3">1</text>
<text x="215.4" y="160.4" font-size="16" font-family="Liberation Sans" font-weight="bold" stroke="#000" stroke-width="0.3">10</text>
<text x="233.8" y="151.1" font-size="9.3" font-family="Liberation Sans" font-weight="bold" stroke="#000" stroke-width="0.3">2</text>
<text x="215.4" y="113.9" font-size="16" font-family="Liberation Sans" font-weight="bold" stroke="#000" stroke-width="0.3">10</text>
<text x="233.8" y="104.60000000000001" font-size="9.3" font-family="Liberation Sans" font-weight="bold" stroke="#000" stroke-width="0.3">3</text>
<text x="215.4" y="67.5" font-size="16" font-family="Liberation Sans" font-weight="bold" stroke="#000" stroke-width="0.3">10</text>
<text x="233.8" y="58.2" font-size="9.3" font-family="Liberation Sans" font-weight="bold" stroke="#000" stroke-width="0.3">4</text>
<text x="51.6" y="269" font-size="16" text-anchor="middle" font-family="Liberation Sans" font-weight="bold" stroke="#000" stroke-width="0.3">0</text>
<text x="94.6" y="269" font-size="16" text-anchor="middle" font-family="Liberation Sans" font-weight="bold" stroke="#000" stroke-width="0.3">10</text>
<text x="137.0" y="269" font-size="16" text-anchor="middle" font-family="Liberation Sans" font-weight="bold" stroke="#000" stroke-width="0.3">20</text>
<text x="245.5" y="269" font-size="16" text-anchor="middle" font-family="Liberation Sans" font-weight="bold" stroke="#000" stroke-width="0.3">0</text>
<text x="288.8" y="269" font-size="16" text-anchor="middle" font-family="Liberation Sans" font-weight="bold" stroke="#000" stroke-width="0.3">10</text>
<text x="331.4" y="269" font-size="16" text-anchor="middle" font-family="Liberation Sans" font-weight="bold" stroke="#000" stroke-width="0.3">20</text>
<text x="385.2" y="269" font-size="16" text-anchor="middle" font-family="Liberation Sans" font-weight="bold" stroke="#000" stroke-width="0.3">0</text>
<text x="428.0" y="269" font-size="16" text-anchor="middle" font-family="Liberation Sans" font-weight="bold" stroke="#000" stroke-width="0.3">10</text>
<text x="471.1" y="269" font-size="16" text-anchor="middle" font-family="Liberation Sans" font-weight="bold" stroke="#000" stroke-width="0.3">20</text>
<text x="56.6" y="302" font-size="16.8" font-family="Liberation Sans" font-weight="bold" stroke="#000" stroke-width="0.3">days of culture</text>
<text x="320.8" y="302" font-size="16.8" font-family="Liberation Sans" font-weight="bold" stroke="#000" stroke-width="0.3">days of culture</text>
<text transform="translate(15.3,236.4) rotate(-90)" font-size="16.55" font-family="Liberation Sans" font-weight="bold" font-style="italic" stroke="#000" stroke-width="0.3">total number of cells</text>
<text transform="translate(208.9,240.9) rotate(-90)" font-size="16.6" font-family="Liberation Sans" font-weight="bold" font-style="italic" stroke="#000" stroke-width="0.3">fold increase of B cells</text>
</svg>
</body></html>
